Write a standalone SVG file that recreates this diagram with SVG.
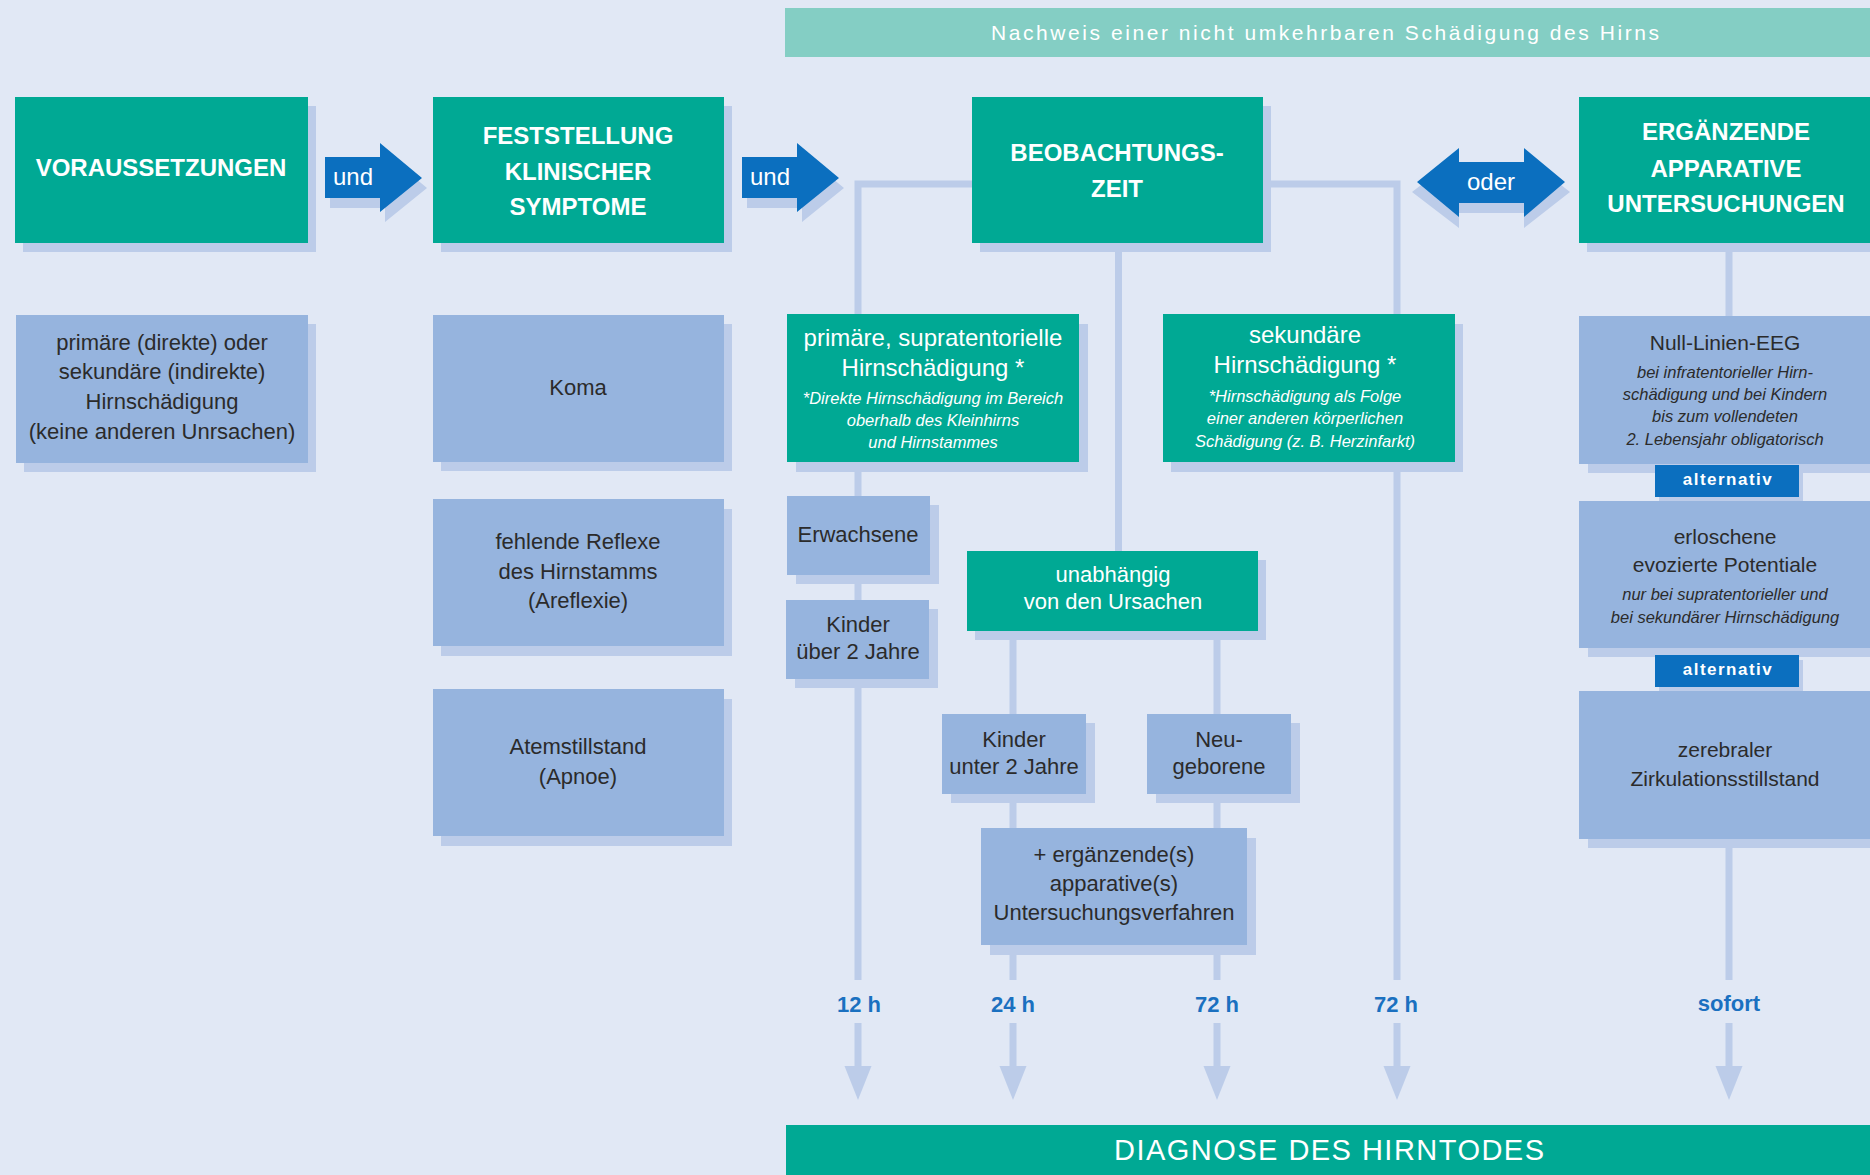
<svg xmlns="http://www.w3.org/2000/svg" width="1870" height="1175" viewBox="0 0 1870 1175">
<defs>
<style>
.teal{fill:#00a994}
.lb{fill:#96b4de}
.sh{fill:#bccce9}
.blue{fill:#0b6fbf}
.conn{stroke:#bccce9;stroke-width:7;fill:none}
.ah{fill:#bccce9}
text{font-family:"Liberation Sans",Arial,sans-serif}
.hd{font-size:24px;font-weight:bold;fill:#fff;text-anchor:middle}
.tx{font-size:22px;fill:#2b2b2b;text-anchor:middle}
.wt{font-size:22px;fill:#fff;text-anchor:middle}
.wl{font-size:24px;fill:#fff;text-anchor:middle}
.wi{font-size:16.5px;font-style:italic;fill:#fff;text-anchor:middle}
.di{font-size:16.5px;font-style:italic;fill:#2b2b2b;text-anchor:middle}
.rt{font-size:21px;fill:#2b2b2b;text-anchor:middle}
.lbl{font-size:22px;font-weight:bold;fill:#1a70c0;text-anchor:middle}
.alt{font-size:17px;font-weight:bold;fill:#fff;text-anchor:middle;letter-spacing:1.5px}
.arr{font-size:24px;fill:#fff}
</style>
</defs>
<rect width="1870" height="1175" fill="#e1e8f5"/>

<g id="connectors">
<path class="conn" d="M972 184 H858 V980"/>
<path class="conn" d="M1263 184 H1397 V980"/>
<path class="conn" d="M1118.5 243 V551"/>
<path class="conn" d="M1013 630 V980"/>
<path class="conn" d="M1217 630 V980"/>
<path class="conn" d="M1729 243 V980"/>
<path class="conn" d="M858 1023 V1068 M1013 1023 V1068 M1217 1023 V1068 M1397 1023 V1068 M1729 1023 V1068"/>
<polygon class="ah" points="844.5,1066 871.5,1066 858,1100"/>
<polygon class="ah" points="999.5,1066 1026.5,1066 1013,1100"/>
<polygon class="ah" points="1203.5,1066 1230.5,1066 1217,1100"/>
<polygon class="ah" points="1383.5,1066 1410.5,1066 1397,1100"/>
<polygon class="ah" points="1715.5,1066 1742.5,1066 1729,1100"/>
</g>

<g id="top-banner">
<rect x="785" y="8" width="1085" height="49" fill="#84cec4"/>
<text x="1325" y="40" font-size="21" fill="#fff" text-anchor="middle" textLength="668" lengthAdjust="spacing">Nachweis einer nicht umkehrbaren Schädigung des Hirns</text>
</g>

<g id="voraussetzungen">
<rect class="sh" x="23" y="106" width="293" height="146"/>
<rect class="teal" x="15" y="97" width="293" height="146"/>
<text class="hd" x="161" y="176">VORAUSSETZUNGEN</text>
</g>

<g id="und1">
<polygon class="sh" points="330,167 385,167 385,153 427,188 385,222 385,208 330,208"/>
<polygon class="blue" points="325,157 380,157 380,143 422,178 380,212 380,198 325,198"/>
<text class="arr" x="333" y="185">und</text>
</g>

<g id="feststellung">
<rect class="sh" x="441" y="106" width="291" height="146"/>
<rect class="teal" x="433" y="97" width="291" height="146"/>
<text class="hd" x="578" y="144">FESTSTELLUNG</text>
<text class="hd" x="578" y="180">KLINISCHER</text>
<text class="hd" x="578" y="215">SYMPTOME</text>
</g>

<g id="und2">
<polygon class="sh" points="747,167 802,167 802,153 844,188 802,222 802,208 747,208"/>
<polygon class="blue" points="742,157 797,157 797,143 839,178 797,212 797,198 742,198"/>
<text class="arr" x="750" y="185">und</text>
</g>

<g id="beobachtungszeit">
<rect class="sh" x="980" y="106" width="291" height="146"/>
<rect class="teal" x="972" y="97" width="291" height="146"/>
<text class="hd" x="1117" y="161">BEOBACHTUNGS-</text>
<text class="hd" x="1117" y="197">ZEIT</text>
</g>

<g id="oder">
<polygon class="sh" points="1412,192 1459,156 1459,170 1524,170 1524,156 1570,192 1524,228 1524,213 1459,213 1459,228"/>
<polygon class="blue" points="1417,182 1459,148 1459,162 1524,162 1524,148 1565,182 1524,217 1524,203 1459,203 1459,217"/>
<text class="arr" x="1491" y="190" text-anchor="middle">oder</text>
</g>

<g id="ergaenzende">
<rect class="sh" x="1587" y="106" width="291" height="146"/>
<rect class="teal" x="1579" y="97" width="295" height="146"/>
<text class="hd" x="1726" y="140">ERGÄNZENDE</text>
<text class="hd" x="1726" y="177">APPARATIVE</text>
<text class="hd" x="1726" y="212">UNTERSUCHUNGEN</text>
</g>

<g id="hirnschaedigung">
<rect class="sh" x="24" y="324" width="292" height="148"/>
<rect class="lb" x="16" y="315" width="292" height="148"/>
<text class="tx" x="162" y="350">primäre (direkte) oder</text>
<text class="tx" x="162" y="379">sekundäre (indirekte)</text>
<text class="tx" x="162" y="409">Hirnschädigung</text>
<text class="tx" x="162" y="439">(keine anderen Unrsachen)</text>
</g>

<g id="koma">
<rect class="sh" x="441" y="324" width="291" height="147"/>
<rect class="lb" x="433" y="315" width="291" height="147"/>
<text class="tx" x="578" y="395">Koma</text>
</g>

<g id="reflexe">
<rect class="sh" x="441" y="509" width="291" height="147"/>
<rect class="lb" x="433" y="499" width="291" height="147"/>
<text class="tx" x="578" y="549">fehlende Reflexe</text>
<text class="tx" x="578" y="579">des Hirnstamms</text>
<text class="tx" x="578" y="608">(Areflexie)</text>
</g>

<g id="atemstillstand">
<rect class="sh" x="441" y="699" width="291" height="147"/>
<rect class="lb" x="433" y="689" width="291" height="147"/>
<text class="tx" x="578" y="754">Atemstillstand</text>
<text class="tx" x="578" y="784">(Apnoe)</text>
</g>

<g id="primaer-supratentoriell">
<rect class="sh" x="796" y="324" width="292" height="148"/>
<rect class="teal" x="787" y="314" width="292" height="148"/>
<text class="wl" x="933" y="346">primäre, supratentorielle</text>
<text class="wl" x="933" y="376">Hirnschädigung *</text>
<text class="wi" x="933" y="404">*Direkte Hirnschädigung im Bereich</text>
<text class="wi" x="933" y="426">oberhalb des Kleinhirns</text>
<text class="wi" x="933" y="448">und Hirnstammes</text>
</g>

<g id="sekundaer">
<rect class="sh" x="1171" y="324" width="292" height="148"/>
<rect class="teal" x="1163" y="314" width="292" height="148"/>
<text class="wl" x="1305" y="343">sekundäre</text>
<text class="wl" x="1305" y="373">Hirnschädigung *</text>
<text class="wi" x="1305" y="402">*Hirnschädigung als Folge</text>
<text class="wi" x="1305" y="424">einer anderen körperlichen</text>
<text class="wi" x="1305" y="447">Schädigung (z. B. Herzinfarkt)</text>
</g>

<g id="erwachsene">
<rect class="sh" x="796" y="505" width="143" height="79"/>
<rect class="lb" x="787" y="496" width="143" height="79"/>
<text class="tx" x="858" y="542">Erwachsene</text>
</g>

<g id="kinder-ueber-2">
<rect class="sh" x="795" y="609" width="143" height="79"/>
<rect class="lb" x="786" y="600" width="143" height="79"/>
<text class="tx" x="858" y="632">Kinder</text>
<text class="tx" x="858" y="659">über 2 Jahre</text>
</g>

<g id="unabhaengig">
<rect class="sh" x="975" y="560" width="291" height="80"/>
<rect class="teal" x="967" y="551" width="291" height="80"/>
<text class="wt" x="1113" y="582">unabhängig</text>
<text class="wt" x="1113" y="609">von den Ursachen</text>
</g>

<g id="kinder-unter-2">
<rect class="sh" x="951" y="723" width="144" height="80"/>
<rect class="lb" x="942" y="714" width="144" height="80"/>
<text class="tx" x="1014" y="747">Kinder</text>
<text class="tx" x="1014" y="774">unter 2 Jahre</text>
</g>

<g id="neugeborene">
<rect class="sh" x="1156" y="723" width="144" height="80"/>
<rect class="lb" x="1147" y="714" width="144" height="80"/>
<text class="tx" x="1219" y="747">Neu-</text>
<text class="tx" x="1219" y="774">geborene</text>
</g>

<g id="ergaenzende-verfahren">
<rect class="sh" x="990" y="838" width="266" height="117"/>
<rect class="lb" x="981" y="828" width="266" height="117"/>
<text class="tx" x="1114" y="862">+ ergänzende(s)</text>
<text class="tx" x="1114" y="891">apparative(s)</text>
<text class="tx" x="1114" y="920">Untersuchungsverfahren</text>
</g>

<g id="null-linien-eeg">
<rect class="sh" x="1588" y="325" width="290" height="148"/>
<rect class="lb" x="1579" y="316" width="295" height="148"/>
<text class="rt" x="1725" y="350">Null-Linien-EEG</text>
<text class="di" x="1725" y="378">bei infratentorieller Hirn-</text>
<text class="di" x="1725" y="400">schädigung und bei Kindern</text>
<text class="di" x="1725" y="422">bis zum vollendeten</text>
<text class="di" x="1725" y="445">2. Lebensjahr obligatorisch</text>
</g>

<g id="alternativ1">
<rect class="sh" x="1659" y="470" width="144" height="32"/>
<rect class="blue" x="1655" y="465" width="144" height="32"/>
<text class="alt" x="1728" y="485">alternativ</text>
</g>

<g id="evozierte-potentiale">
<rect class="sh" x="1588" y="510" width="290" height="147"/>
<rect class="lb" x="1579" y="501" width="295" height="147"/>
<text class="rt" x="1725" y="544">erloschene</text>
<text class="rt" x="1725" y="572">evozierte Potentiale</text>
<text class="di" x="1725" y="600">nur bei supratentorieller und</text>
<text class="di" x="1725" y="623">bei sekundärer Hirnschädigung</text>
</g>

<g id="alternativ2">
<rect class="sh" x="1659" y="660" width="144" height="32"/>
<rect class="blue" x="1655" y="655" width="144" height="32"/>
<text class="alt" x="1728" y="675">alternativ</text>
</g>

<g id="zirkulationsstillstand">
<rect class="sh" x="1588" y="700" width="290" height="148"/>
<rect class="lb" x="1579" y="691" width="295" height="148"/>
<text class="rt" x="1725" y="757">zerebraler</text>
<text class="rt" x="1725" y="786">Zirkulationsstillstand</text>
</g>

<g id="zeit-labels">
<text class="lbl" x="859" y="1012">12 h</text>
<text class="lbl" x="1013" y="1012">24 h</text>
<text class="lbl" x="1217" y="1012">72 h</text>
<text class="lbl" x="1396" y="1012">72 h</text>
<text class="lbl" x="1729" y="1011">sofort</text>
</g>

<g id="diagnose">
<rect class="teal" x="786" y="1125" width="1084" height="50"/>
<text x="1329" y="1160" font-size="29" fill="#fff" text-anchor="middle" textLength="430" lengthAdjust="spacing">DIAGNOSE DES HIRNTODES</text>
</g>
</svg>
